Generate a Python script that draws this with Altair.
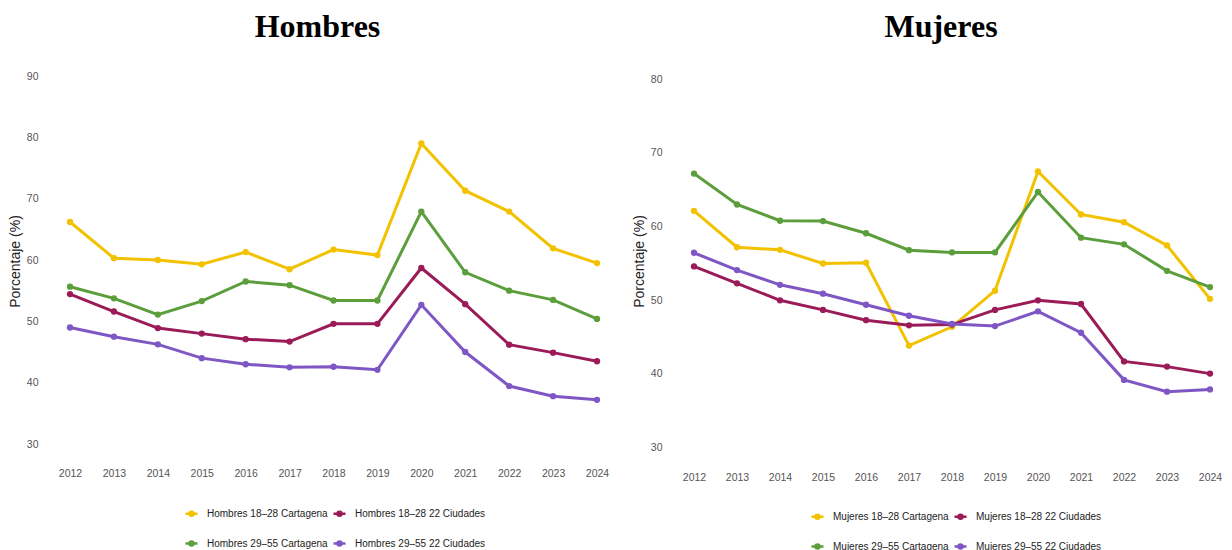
import altair as alt
import pandas as pd

years = list(range(2012, 2025))

# Hombres
h_18_28_ctg = [66.2, 60.3, 60.0, 59.3, 61.3, 58.5, 61.7, 60.8, 79.0, 71.3, 67.9, 61.9, 59.5]
h_18_28_22c = [54.45, 51.6, 48.9, 48.0, 47.1, 46.7, 49.6, 49.6, 58.7, 52.8, 46.2, 44.9, 43.5]
h_29_55_ctg = [55.65, 53.75, 51.1, 53.3, 56.5, 55.9, 53.4, 53.4, 67.9, 58.0, 55.0, 53.5, 50.4]
h_29_55_22c = [49.0, 47.5, 46.25, 44.0, 43.0, 42.5, 42.6, 42.1, 52.7, 45.0, 39.45, 37.8, 37.2]

# Mujeres
m_18_28_ctg = [62.15, 57.2, 56.85, 55.0, 55.1, 43.85, 46.4, 51.3, 67.5, 61.65, 60.6, 57.45, 50.2]
m_18_28_22c = [54.6, 52.3, 50.0, 48.7, 47.3, 46.6, 46.7, 48.7, 50.0, 49.5, 41.7, 41.0, 40.05]
m_29_55_ctg = [67.2, 63.0, 60.8, 60.75, 59.1, 56.8, 56.5, 56.5, 64.7, 58.5, 57.6, 54.0, 51.8]
m_29_55_22c = [56.45, 54.1, 52.1, 50.9, 49.4, 47.9, 46.8, 46.5, 48.5, 45.6, 39.2, 37.6, 37.9]

h_series = ["Hombres 18–28 Cartagena", "Hombres 18–28 22 Ciudades",
            "Hombres 29–55 Cartagena", "Hombres 29–55 22 Ciudades"]
m_series = ["Mujeres 18–28 Cartagena", "Mujeres 18–28 22 Ciudades",
            "Mujeres 29–55 Cartagena", "Mujeres 29–55 22 Ciudades"]
colors = ["#F2C200", "#9B1B58", "#5B9E3B", "#7E57C4"]

h_ticks = [30, 40, 50, 60, 70, 80, 90]
m_ticks = [30, 40, 50, 60, 70, 80]


def make_df(names, arrays):
    rows = []
    for n, arr in zip(names, arrays):
        for y, v in zip(years, arr):
            rows.append({"year": y, "value": v, "serie": n})
    return pd.DataFrame(rows)


h_df = make_df(h_series, [h_18_28_ctg, h_18_28_22c, h_29_55_ctg, h_29_55_22c])
m_df = make_df(m_series, [m_18_28_ctg, m_18_28_22c, m_29_55_ctg, m_29_55_22c])

SANS = "Liberation Sans"
SYM = "M-1,0L1,0M-0.33,0A0.33,0.33,0,1,1,0.33,0A0.33,0.33,0,1,1,-0.33,0"


def panel(df, names, title, xdom, width, ydom, yticks, xlabpad, legx, legy, tdx):
    return alt.Chart(df).mark_line(
        strokeWidth=3,
        point=alt.OverlayMarkDef(filled=True, size=40),
    ).encode(
        x=alt.X("year:Q",
                scale=alt.Scale(domain=xdom, nice=False, zero=False),
                axis=alt.Axis(values=years, format="d", title=None, grid=False,
                              domain=False, ticks=False, labelFont=SANS,
                              labelFontSize=10.5, labelColor="#555555",
                              labelPadding=xlabpad, labelFlush=False)),
        y=alt.Y("value:Q",
                scale=alt.Scale(domain=ydom, nice=False, zero=False),
                axis=alt.Axis(values=yticks, title="Porcentaje (%)", grid=False,
                              domain=False, ticks=False, labelFont=SANS,
                              labelFontSize=10.5, labelColor="#555555",
                              labelPadding=5, titleFont=SANS,
                              titleFontSize=14, titleFontWeight="normal",
                              titleColor="#222222", titlePadding=4)),
        color=alt.Color("serie:N", sort=names,
                        scale=alt.Scale(domain=names, range=colors),
                        legend=alt.Legend(title=None, orient="none",
                                          legendX=legx, legendY=legy,
                                          columns=2, direction="horizontal",
                                          symbolType=SYM, symbolSize=144,
                                          symbolStrokeWidth=2.5,
                                          labelFont=SANS, labelFontSize=10,
                                          labelColor="#222222", labelOffset=8,
                                          columnPadding=0, rowPadding=15,
                                          padding=0)),
    ).properties(
        width=width, height=400,
        title=alt.TitleParams(title, font="Liberation Serif", fontSize=32,
                              fontWeight="bold", color="#000000",
                              anchor="middle", frame="group", dx=tdx,
                              offset=-8, baseline="alphabetic"),
    )


left = panel(h_df, h_series, "Hombres", [2011.385, 2024.615], 581,
             [27.23, 92.45], h_ticks, 7, 141, 445, -16)
right = panel(m_df, m_series, "Mujeres", [2011.372, 2024.279], 555,
              [28.19, 82.48], m_ticks, 11, 143, 448, -3.5)

chart = alt.hconcat(left, right, spacing=8).resolve_scale(
    color="independent", x="independent", y="independent"
).resolve_legend(color="independent").configure_view(stroke=None).properties(
    padding={"left": 0, "top": 3, "right": 0, "bottom": 0}
)

chart.save("out.html", embed_options={"renderer": "svg", "actions": False})
